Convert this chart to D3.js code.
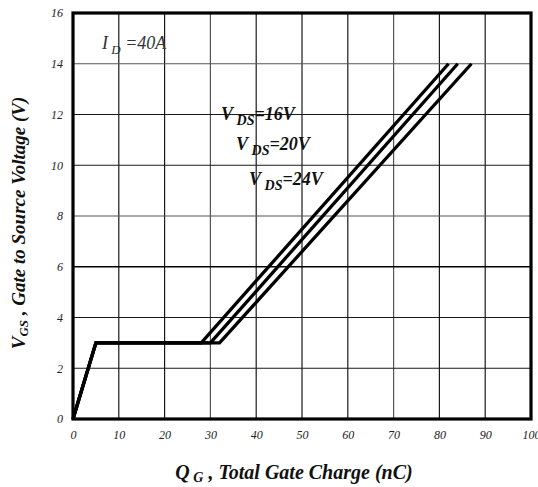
<!DOCTYPE html>
<html><head><meta charset="utf-8">
<script src="https://cdn.jsdelivr.net/npm/d3@7"></script>
<style>body{margin:0;background:#fff}svg{display:block}</style>
</head><body>
<script>
const xTicks = [0,10,20,30,40,50,60,70,80,90,100];
const yTicks = [0,2,4,6,8,10,12,14,16];
const seriesNames = ["16V","20V","24V"];
const qG16 = [0,5,28,82];
const vGS16 = [0,3,3,14];
const qG20 = [0,5,30,84];
const vGS20 = [0,3,3,14];
const qG24 = [0,5,32,87];
const vGS24 = [0,3,3,14];
const series = [
  {name:seriesNames[0], q:qG16, v:vGS16},
  {name:seriesNames[1], q:qG20, v:vGS20},
  {name:seriesNames[2], q:qG24, v:vGS24}
];

const W=538,H=487;
const svg=d3.select("body").append("svg").attr("width",W).attr("height",H);
const x=d3.scaleLinear().domain([0,100]).range([73,531]);
const y=d3.scaleLinear().domain([0,16]).range([419,13]);
const serif="'Liberation Serif','Times New Roman',serif";

// grid
svg.append("g").selectAll("line").data(xTicks).join("line")
  .attr("x1",d=>x(d)).attr("x2",d=>x(d)).attr("y1",y(0)).attr("y2",y(16))
  .attr("stroke",d=>(d===30||d===70)?"#555":"#1a1a1a").attr("stroke-width",1.2);
svg.append("g").selectAll("line").data(yTicks).join("line")
  .attr("y1",d=>y(d)).attr("y2",d=>y(d)).attr("x1",x(0)).attr("x2",x(100))
  .attr("stroke",d=>d===6?"#000":(d===14||d===8)?"#555":"#1a1a1a").attr("stroke-width",d=>d===6?1.7:1.2);

// axes (labels only)
const xAxis=d3.axisBottom(x).tickValues(xTicks).tickSize(0).tickPadding(11).tickFormat(d3.format("d"));
const gx=svg.append("g").attr("transform",`translate(0,${y(0)})`).call(xAxis);
gx.select(".domain").remove();
gx.selectAll("text").attr("font-family",serif).attr("font-style","italic").attr("font-size",12).attr("fill","#222");
const yAxis=d3.axisLeft(y).tickValues(yTicks).tickSize(0).tickPadding(10).tickFormat(d3.format("d"));
const gy=svg.append("g").attr("transform",`translate(${x(0)},0)`).call(yAxis);
gy.select(".domain").remove();
gy.selectAll("text").attr("font-family",serif).attr("font-style","italic").attr("font-size",12).attr("fill","#222");

// curves
const line=d3.line().x(d=>x(d[0])).y(d=>y(d[1]));
svg.append("g").selectAll("path").data(series).join("path")
  .attr("d",s=>line(s.q.map((q,i)=>[q,s.v[i]])))
  .attr("fill","none").attr("stroke","#000").attr("stroke-width",3.3).attr("stroke-linejoin","miter");

// frame
svg.append("rect").attr("x",x(0)).attr("y",y(16)).attr("width",x(100)-x(0)).attr("height",y(0)-y(16))
  .attr("fill","none").attr("stroke","#000").attr("stroke-width",3.2);

// annotations
const id=svg.append("text").attr("x",102).attr("y",49).attr("font-family",serif).attr("font-style","italic")
  .attr("font-size",18).attr("fill","#333");
id.append("tspan").text("I");
id.append("tspan").attr("font-size",13).attr("dy",5).text(" D");
id.append("tspan").attr("dy",-5).text(" =40A");

const labPos=[[221,120],[236,150],[249,185]];
series.forEach((s,i)=>{
  const t=svg.append("text").attr("x",labPos[i][0]).attr("y",labPos[i][1]).attr("font-family",serif)
    .attr("font-style","italic").attr("font-weight","bold").attr("font-size",18).attr("fill","#111");
  t.append("tspan").text("V");
  t.append("tspan").attr("font-size",14).attr("dy",5).text(" DS");
  t.append("tspan").attr("dy",-5).text("="+s.name);
});

// axis titles
const xt=svg.append("text").attr("x",294).attr("y",479).attr("text-anchor","middle").attr("font-family",serif)
  .attr("font-style","italic").attr("font-weight","bold").attr("font-size",20).attr("fill","#111");
xt.append("tspan").text("Q");
xt.append("tspan").attr("font-size",14).attr("dy",3).text(" G");
xt.append("tspan").attr("dy",-3).text(" , Total Gate Charge (nC)");

const yt=svg.append("text").attr("transform","translate(25,223) rotate(-90)").attr("text-anchor","middle")
  .attr("font-family",serif).attr("font-style","italic").attr("font-weight","bold").attr("font-size",19).attr("fill","#111");
yt.append("tspan").text("V");
yt.append("tspan").attr("font-size",13).attr("dy",3).text("GS");
yt.append("tspan").attr("dy",-3).text(" , Gate to Source Voltage (V)");
</script>
</body></html>
